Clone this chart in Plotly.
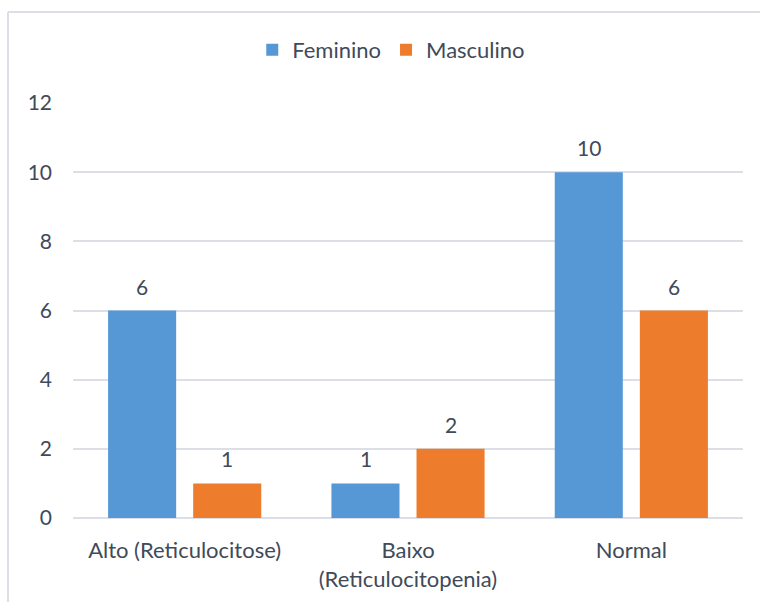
import plotly.graph_objects as go

# Reticulocyte classification by sex
categorias = ["Alto (Reticulocitose)", "Baixo<br>(Reticulocitopenia)", "Normal"]
feminino = [6, 1, 10]
masculino = [1, 2, 6]
y_ticks = [0, 2, 4, 6, 8, 10, 12]

AZUL = "#5698D6"
LARANJA = "#EE7C2D"
TEXTO = "#404A59"
GRADE = "#DCE0E6"
FONTE = "Lato, 'Open Sans', sans-serif"
TAM = 21
TAM_GRANDE = 22

series = [("Feminino", feminino, AZUL, -1), ("Masculino", masculino, LARANJA, 1)]

fig = go.Figure()
anotacoes = []
for nome, valores, cor, lado in series:
    fig.add_trace(go.Bar(
        name=nome,
        x=categorias,
        y=valores,
        marker=dict(color=cor, line=dict(width=0)),
        cliponaxis=False,
    ))
    # value labels above each bar, shifted to the bar's slot in the group
    for cat, v in zip(categorias, valores):
        anotacoes.append(dict(
            x=cat, y=v, xref="x", yref="y",
            text=str(v), showarrow=False,
            xanchor="center", yanchor="bottom",
            xshift=42.5 * lado, yshift=10,
            font=dict(size=TAM, color=TEXTO, family=FONTE),
        ))

fig.update_layout(
    width=760,
    height=602,
    margin=dict(l=73, r=17, t=103, b=84),
    paper_bgcolor="white",
    plot_bgcolor="white",
    barmode="group",
    bargap=0.238,
    bargroupgap=0.2,
    font=dict(family=FONTE, color=TEXTO, size=TAM),
    annotations=anotacoes,
    legend=dict(
        orientation="h",
        x=0.475,
        xanchor="center",
        y=1.128,
        yanchor="middle",
        font=dict(size=TAM_GRANDE, color=TEXTO),
        itemwidth=30,
        traceorder="normal",
    ),
    xaxis=dict(
        showgrid=False,
        showline=False,
        ticks="",
        automargin=False,
        ticklabelstandoff=17,
        tickfont=dict(size=TAM_GRANDE, color=TEXTO),
    ),
    yaxis=dict(
        range=[0, 12],
        tickvals=y_ticks,
        showgrid=True,
        gridcolor=GRADE,
        gridwidth=2,
        zeroline=True,
        zerolinecolor=GRADE,
        zerolinewidth=2,
        showline=False,
        ticks="",
        automargin=False,
        ticklabelstandoff=20,
        tickfont=dict(size=TAM, color=TEXTO),
    ),
    shapes=[
        # chart frame: left and top edges
        dict(type="line", xref="paper", yref="paper", x0=-0.097, x1=-0.097, y0=1.2193, y1=-0.3,
             line=dict(color=GRADE, width=2)),
        dict(type="line", xref="paper", yref="paper", x0=-0.097, x1=1.1, y0=1.2193, y1=1.2193,
             line=dict(color=GRADE, width=2)),
    ],
)

fig.write_html("out.html")
